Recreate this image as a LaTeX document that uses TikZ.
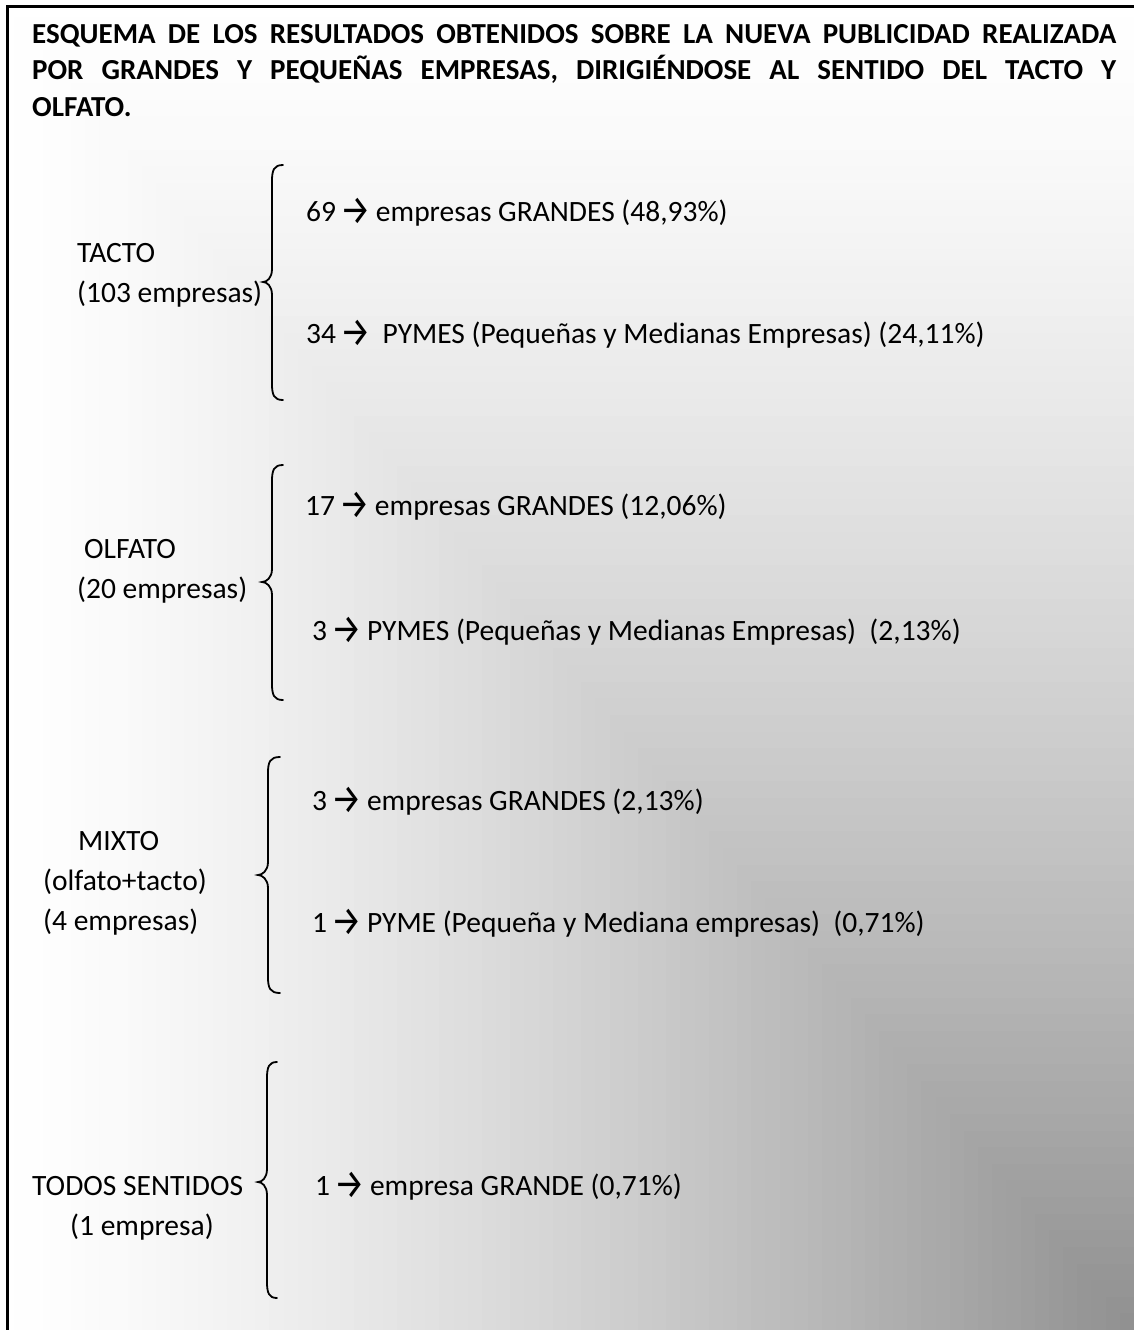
\documentclass[tikz,border=0pt]{standalone}
\usepackage{fontspec}
\usepackage{graphicx}
\setmainfont{Carlito}
\newfontfamily\arrfont{Fira Sans}
\newsavebox\arrbox
\newcommand\arr{\sbox\arrbox{\arrfont →}\makebox[\wd\arrbox][c]{\raisebox{-3.5pt}{\arrfont\scalebox{1.15}[1.4]{→}}}}
\newcommand\wbrace[6]{%
  \draw[brc] (#1,#4) .. controls ({#2+2},#4) and (#2,{#4+5}) .. (#2,{#4+16})
    -- (#2,{#5-13}) .. controls (#2,{#5-4}) and ({#3+4},#5) .. (#3,#5)
    .. controls ({#3+4},#5) and (#2,{#5+4}) .. (#2,{#5+13})
    -- (#2,{#6-16}) .. controls (#2,{#6-5}) and ({#2+2},#6) .. (#1,#6);}
\begin{document}
\begin{tikzpicture}[x=1pt,y=-1pt,
  txt/.style={anchor=base west, inner sep=0pt, font=\fontsize{29.5}{35}\selectfont},
  ttl/.style={anchor=base west, inner sep=0pt, font=\fontsize{29}{35}\selectfont\bfseries},
  brc/.style={line width=1.8pt, line cap=round},
  frame/.style={line width=3pt}]
\useasboundingbox (0,0) rectangle (1134,1330);
\fill[white] (0,0) rectangle (1134,1330);
\begin{scope}
  \clip (7,7) rectangle (1134,1330);
  \foreach \k in {80,79,...,1}{
    \pgfmathsetmacro\dd{(\k-0.5)/80}
    \pgfmathsetmacro\gv{(255-111*pow(1-\dd,1.35))/255}
    \pgfmathsetmacro\xa{1134-14.175*\k}
    \pgfmathsetmacro\ya{1330-16.625*\k}
    \definecolor{bandc}{gray}{\gv}
    \fill[bandc] (\xa,\ya) rectangle (1134,1330);
  }
\end{scope}
\draw[frame] (7,1331) -- (7,7) -- (1135,7);

% title
\node[ttl] (title1) at (32,44) {\makebox[1084pt][s]{ESQUEMA DE LOS RESULTADOS OBTENIDOS SOBRE LA NUEVA PUBLICIDAD REALIZADA}};
\node[ttl] (title2) at (32,80) {\makebox[1084pt][s]{POR GRANDES Y PEQUEÑAS EMPRESAS, DIRIGIÉNDOSE AL SENTIDO DEL TACTO Y}};
\node[ttl] (title3) at (32,116) {OLFATO.};

% TACTO
\node[txt] (tacto) at (77,262) {TACTO};
\node[txt] (tactoN) at (77,302) {(103 empresas)};
\wbrace{283}{272}{263}{165}{282}{400}
\node[txt] (t1) at (306,221) {69 \arr\ empresas GRANDES (48,93\%)};
\node[txt] (t2) at (306,343) {34 \arr\ \ PYMES (Pequeñas y Medianas Empresas) (24,11\%)};

% OLFATO
\node[txt] (olfato) at (84,558) {OLFATO};
\node[txt] (olfatoN) at (77,598) {(20 empresas)};
\wbrace{283}{272}{262}{465}{582}{700}
\node[txt] (o1) at (305,515) {17 \arr\ empresas GRANDES (12,06\%)};
\node[txt] (o2) at (312,640) {3 \arr\ PYMES (Pequeñas y Medianas Empresas)\ \ (2,13\%)};

% MIXTO
\node[txt] (mixto) at (78,850) {MIXTO};
\node[txt] (mixtoS) at (43,890) {(olfato+tacto)};
\node[txt] (mixtoN) at (43,930) {(4 empresas)};
\wbrace{280}{268}{258}{757}{875}{993}
\node[txt] (m1) at (312,810) {3 \arr\ empresas GRANDES (2,13\%)};
\node[txt] (m2) at (312,932) {1 \arr\ PYME (Pequeña y Mediana empresas)\ \ (0,71\%)};

% TODOS SENTIDOS
\node[txt] (todos) at (32,1195) {TODOS SENTIDOS};
\node[txt] (todosN) at (70,1235) {(1 empresa)};
\wbrace{277}{267}{258}{1062}{1182}{1298}
\node[txt] (s1) at (315,1195) {1 \arr\ empresa GRANDE (0,71\%)};
\end{tikzpicture}
\end{document}
